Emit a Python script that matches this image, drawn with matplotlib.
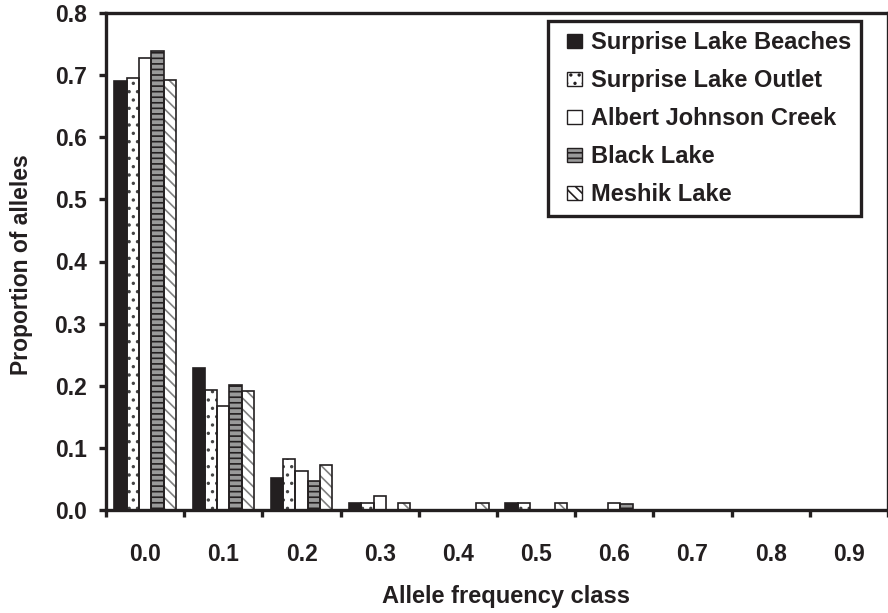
import matplotlib
matplotlib.use("Agg")
import matplotlib.pyplot as plt
from matplotlib.legend_handler import HandlerPatch
from matplotlib.patches import Patch, Rectangle
import numpy as np

plt.rcParams["font.family"] = ["Liberation Sans", "DejaVu Sans"]
plt.rcParams["font.weight"] = "bold"
plt.rcParams["hatch.linewidth"] = 1.2

FREQ_CLASSES = ["0.0", "0.1", "0.2", "0.3", "0.4", "0.5", "0.6", "0.7", "0.8", "0.9"]
SERIES_NAMES = ["Surprise Lake Beaches", "Surprise Lake Outlet", "Albert Johnson Creek",
                "Black Lake", "Meshik Lake"]

beaches = [0.690, 0.228, 0.052, 0.012, 0.0, 0.012, 0.0, 0.0, 0.0, 0.0]
outlet = [0.695, 0.193, 0.082, 0.011, 0.0, 0.011, 0.0, 0.0, 0.0, 0.0]
albert = [0.727, 0.167, 0.063, 0.023, 0.0, 0.0, 0.012, 0.0, 0.0, 0.0]
black_lake = [0.739, 0.201, 0.047, 0.0, 0.0, 0.0, 0.009, 0.0, 0.0, 0.0]
meshik = [0.692, 0.191, 0.072, 0.011, 0.011, 0.011, 0.0, 0.0, 0.0, 0.0]

Y_TICKS = [0.0, 0.1, 0.2, 0.3, 0.4, 0.5, 0.6, 0.7, 0.8]

INK = "#231f20"
# (face colour, hatch, hatch colour)
STYLES = [(INK, None, INK),
          ("white", "..", "#444444"),
          ("white", None, INK),
          ("#9a9a9a", "---", INK),
          ("white", "\\\\\\", "#808080")]


def small_square(legend, orig_handle, xdescent, ydescent, width, height, fontsize):
    # small square sitting at the right end of the handle box
    sq = 0.6 * fontsize
    return Rectangle((-xdescent + width - sq, -ydescent + (height - sq) / 2), sq, sq)


W, H = 888, 613
fig = plt.figure(figsize=(W / 100, H / 100), dpi=100)
ax = fig.add_axes([106 / W, 1 - 510 / H, 1 - 106 / W, (510 - 13) / H])

x = np.arange(len(FREQ_CLASSES))
bar_w = 0.157
all_series = [beaches, outlet, albert, black_lake, meshik]
handles = []
for i, (vals, name, (fc, hatch, hc)) in enumerate(zip(all_series, SERIES_NAMES, STYLES)):
    pos = x + (i - 2) * bar_w
    ax.bar(pos, vals, width=bar_w, color=fc, hatch=hatch, edgecolor=hc, linewidth=0, zorder=2)
    ax.bar(pos, vals, width=bar_w, fill=False, edgecolor=INK, linewidth=1.2, zorder=3)
    handles.append(Patch(facecolor=fc, hatch=hatch, edgecolor=INK, linewidth=1.0, label=name))

ax.set_xlim(-0.5, -0.5 + (W - 106) / 79)
ax.set_ylim(0, 0.8)
ax.set_yticks(Y_TICKS, [f"{t:.1f}" for t in Y_TICKS])
ax.set_xticks(x, FREQ_CLASSES)
ax.set_xticks(np.arange(-0.5, len(FREQ_CLASSES)), minor=True)

for s in ["left", "bottom", "top", "right"]:
    ax.spines[s].set_linewidth(2.4)
    ax.spines[s].set_color(INK)

ax.tick_params(axis="y", length=5, width=2.4, pad=9, labelsize=16.5, color=INK)
ax.tick_params(axis="x", which="major", length=0, pad=24, labelsize=16.5)
ax.tick_params(axis="x", which="minor", length=5, width=2.4, color=INK)
for lab in ax.get_xticklabels() + ax.get_yticklabels():
    lab.set_fontweight("bold")
    lab.set_color(INK)

ax.set_xlabel("Allele frequency class", fontsize=17, fontweight="bold", color=INK)
ax.xaxis.set_label_coords((506 - 106) / 782, (510 - 597) / 497)
ax.xaxis.label.set_va("center")
ax.set_ylabel("Proportion of alleles", fontsize=16.5, fontweight="bold", color=INK)
ax.yaxis.set_label_coords((22 - 106) / 782, (510 - 265) / 497)
ax.yaxis.label.set_va("center")

leg = ax.legend(handles=handles, loc="upper left",
                bbox_to_anchor=((548 - 106) / 782, (510 - 21) / 497),
                borderaxespad=0, fontsize=17, handlelength=1.0, handleheight=0.6,
                handletextpad=0.38, labelspacing=0.64, fancybox=False, framealpha=1,
                borderpad=0.42,
                handler_map={Patch: HandlerPatch(patch_func=small_square)})
leg.get_frame().set_edgecolor(INK)
leg.get_frame().set_linewidth(2.4)
for t in leg.get_texts():
    t.set_color(INK)

fig.savefig("out.png", dpi=100)
